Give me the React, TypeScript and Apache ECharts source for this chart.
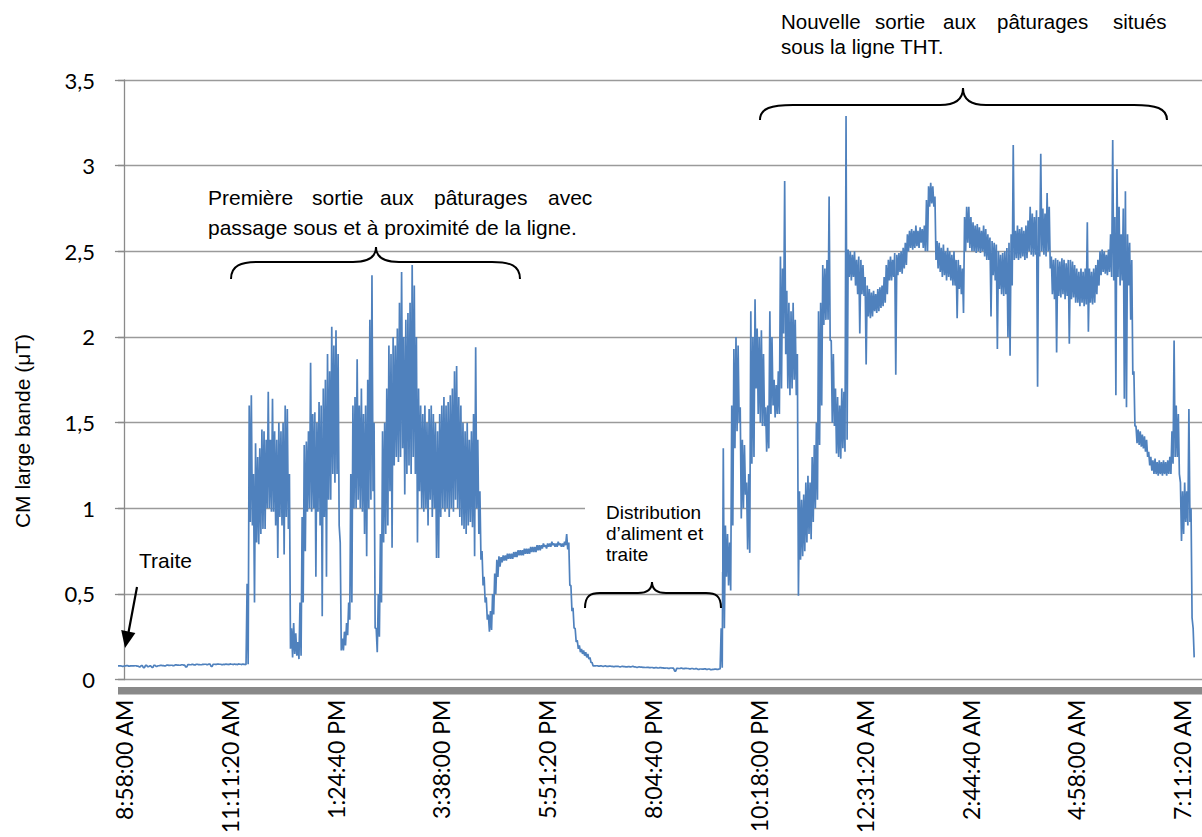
import React, { useEffect, useRef } from "react";
import * as echarts from "echarts";

// each reading window lasts 160 s; the first starts 450 s before 8:58:00 AM
const START_SECONDS = -450;
const WINDOW_SECONDS = 160;
const AXIS_MAX_SECONDS = 81500;

const TICK_SECONDS = [0, 8000, 16000, 24000, 32000, 40000, 48000, 56000, 64000, 72000, 80000];
const TICK_LABELS = [
  "8:58:00 AM", "11:11:20 AM", "1:24:40 PM", "3:38:00 PM", "5:51:20 PM",
  "8:04:40 PM", "10:18:00 PM", "12:31:20 AM", "2:44:40 AM", "4:58:00 AM", "7:11:20 AM",
];

// CM large bande (µT): upper and lower edge of the trace in each window
const milkingFlat = [0.08,0.08,0.078,0.08,0.082,0.079,0.08,0.08,0.081,0.079,
  0.075,0.082,0.07,0.083,0.076,0.08,0.072,0.084,0.078,0.081,
  0.083,0.082,0.08,0.085,0.083,0.084,0.082,0.086,0.085,0.084,
  0.087,0.085,0.074,0.088,0.087,0.089,0.086,0.09,0.088,0.087,
  0.089,0.09,0.088,0.091,0.078,0.09,0.089,0.091,0.09,0.088];

const pasture1aHigh = [0.09,0.091,0.09,0.092,0.09,0.091,0.09,0.092,0.09,0.091,
  0.09,0.56,1.6,1.66,1.2,1.38,1.3,1.35,1.46,1.45,
  1.4,1.68,1.4,1.64,1.45,1.4,1.5,1.45,1.5,1.6,
  1.58,1.2,0.3,0.33,0.27,0.22,0.45,0.95,1.37,1.39,
  1.45,1.85,1.55,1.56,1.5,1.62,1.6,1.7,1.75,1.9];
const pasture1aLow = [0.088,0.089,0.088,0.09,0.088,0.089,0.088,0.09,0.088,0.089,
  0.088,0.09,0.92,0.9,0.45,0.8,0.79,0.85,0.88,0.88,
  1.0,1.0,0.98,0.98,0.9,0.71,0.95,0.9,0.73,0.95,
  0.88,0.18,0.13,0.15,0.14,0.12,0.14,0.45,0.75,0.98,
  1.0,0.98,1.0,0.6,0.98,0.9,0.37,0.95,0.6,1.05];

const pasture1bHigh = [1.8,2.06,1.95,2.04,1.9,0.8,0.24,0.28,0.33,0.45,
  1.2,1.6,1.65,1.87,1.6,1.7,1.55,1.6,1.75,2.1,
  2.36,1.5,0.3,0.5,0.85,1.45,1.5,1.7,1.95,1.9,
  2.0,1.95,2.05,2.2,2.38,2.0,2.1,2.14,2.2,2.42,
  2.3,2.0,1.7,1.6,1.55,1.6,1.5,1.58,1.6,1.55];
const pasture1bLow = [1.05,1.2,1.15,1.2,0.9,0.17,0.17,0.2,0.26,0.35,
  0.45,1.0,1.0,1.05,1.0,0.98,0.85,0.72,1.0,1.05,
  1.1,0.3,0.16,0.25,0.45,0.8,0.85,0.9,1.1,0.77,
  1.25,1.3,1.27,1.3,1.35,1.08,1.2,1.25,1.2,1.3,
  1.2,0.8,1.1,1.0,0.98,1.0,0.9,1.05,0.95,1.0];

const pasture1cHigh = [1.5,1.45,1.55,1.6,1.65,1.6,1.62,1.66,1.7,1.8,
  1.83,1.65,1.6,1.5,1.45,1.5,1.4,1.45,1.55,1.94,
  1.4,1.1,0.75,0.6,0.48,0.38,0.4,0.5,0.62,0.7,
  0.72,0.715,0.725,0.725,0.735,0.735,0.735,0.745,0.745,0.755,
  0.755,0.755,0.765,0.765,0.765,0.775,0.775,0.775,0.785,0.785];
const pasture1cLow = [0.71,0.71,0.95,1.0,0.98,1.0,0.95,1.0,0.98,1.05,
  1.0,0.95,0.9,0.88,0.85,0.9,0.92,0.89,0.72,1.0,
  0.85,0.7,0.55,0.45,0.35,0.28,0.29,0.38,0.5,0.6,
  0.66,0.685,0.695,0.695,0.705,0.705,0.705,0.715,0.715,0.725,
  0.725,0.725,0.735,0.735,0.735,0.745,0.745,0.745,0.755,0.755];

const eveningHigh = [0.785,0.795,0.785,0.795,0.795,0.805,0.795,0.795,0.805,0.795,
  0.795,0.805,0.85,0.8,0.55,0.42,0.3,0.23,0.2,0.18,
  0.17,0.16,0.15,0.13,0.1,0.08,0.081,0.079,0.08,0.078,
  0.08,0.077,0.079,0.078,0.076,0.078,0.077,0.075,0.077,0.076,
  0.074,0.076,0.075,0.077,0.074,0.072,0.074,0.073,0.072,0.071];
const eveningLow = [0.765,0.775,0.765,0.775,0.775,0.785,0.775,0.775,0.785,0.775,
  0.775,0.785,0.76,0.55,0.4,0.3,0.22,0.18,0.16,0.15,
  0.14,0.13,0.12,0.1,0.08,0.08,0.081,0.079,0.08,0.078,
  0.08,0.077,0.079,0.078,0.076,0.078,0.077,0.075,0.077,0.076,
  0.074,0.076,0.075,0.077,0.074,0.072,0.074,0.073,0.072,0.071];

const nightStartHigh = [0.072,0.07,0.071,0.069,0.07,0.068,0.07,0.069,0.067,0.068,
  0.066,0.068,0.067,0.05,0.066,0.065,0.067,0.064,0.066,0.065,
  0.063,0.065,0.062,0.064,0.06,0.062,0.061,0.063,0.06,0.062,
  0.058,0.06,0.061,0.06,0.062,0.3,1.35,0.9,0.85,0.8,
  1.6,1.93,2.0,1.95,1.59,1.4,1.37,1.15,1.2,2.15];
const nightStartLow = [0.072,0.07,0.071,0.069,0.07,0.068,0.07,0.069,0.067,0.068,
  0.066,0.068,0.067,0.05,0.066,0.065,0.067,0.064,0.066,0.065,
  0.063,0.065,0.062,0.064,0.06,0.062,0.061,0.063,0.06,0.062,
  0.058,0.06,0.061,0.06,0.062,0.07,0.3,0.6,0.55,0.52,
  0.9,1.35,1.45,1.5,0.94,1.0,1.08,0.76,0.74,1.26];

const pasture2aHigh = [2.0,2.22,2.05,2.0,2.04,1.9,1.59,1.6,2.15,2.0,
  1.75,1.72,1.8,2.47,2.4,2.91,2.27,2.2,2.15,2.2,
  2.1,1.9,1.1,1.05,1.08,1.15,1.19,1.15,1.3,1.37,
  1.5,2.15,2.2,2.42,2.4,2.45,2.82,1.98,1.9,1.7,
  1.65,1.6,1.7,1.68,3.29,2.51,2.5,2.48,2.5,2.45];
const pasture2aLow = [1.3,1.7,1.55,1.5,1.48,1.48,1.33,1.35,1.55,1.6,
  1.53,1.55,1.55,1.7,2.02,1.9,1.7,1.66,1.7,1.75,
  1.66,0.49,0.7,0.72,0.75,0.8,0.85,0.82,0.92,1.0,
  1.05,1.37,1.6,2.07,2.1,2.1,1.98,1.5,1.48,1.32,
  1.3,1.29,1.35,1.33,1.4,2.35,2.33,2.35,2.3,2.25];

const pasture2bHigh = [2.47,2.45,2.42,2.35,2.3,2.28,2.26,2.27,2.25,2.28,
  2.29,2.3,2.35,2.42,2.45,2.47,2.45,2.49,2.48,2.49,
  2.5,2.52,2.55,2.6,2.62,2.63,2.62,2.65,2.62,2.64,
  2.63,2.65,2.8,2.88,2.9,2.88,2.82,2.56,2.55,2.52,
  2.54,2.5,2.52,2.5,2.48,2.5,2.45,2.45,2.42,2.4];
const pasture2bLow = [2.02,2.25,2.24,1.84,2.12,2.11,2.12,2.15,2.14,2.15,
  2.17,2.18,2.2,2.25,2.33,2.33,2.35,1.78,2.36,2.38,
  2.37,2.4,2.42,2.5,2.52,2.51,2.52,2.53,2.52,2.55,
  2.52,2.5,2.5,2.76,2.78,2.76,2.45,2.4,2.38,2.35,
  2.36,2.33,2.35,2.33,2.3,2.3,2.11,2.28,2.25,2.14];

const pasture2cHigh = [2.7,2.76,2.76,2.7,2.67,2.65,2.66,2.64,2.62,2.65,
  2.63,2.6,2.58,2.56,2.55,2.54,2.5,2.48,2.49,2.5,
  2.52,2.55,2.6,3.12,2.62,2.65,2.63,2.64,2.62,2.65,
  2.68,2.76,2.72,2.7,2.74,2.7,3.07,2.75,2.72,2.84,
  2.76,2.47,2.45,2.46,2.45,2.44,2.46,2.45,2.43,2.45];
const pasture2cLow = [2.5,2.55,2.52,2.5,2.5,2.49,2.5,2.49,2.5,2.47,
  2.45,2.45,2.12,2.36,2.33,1.93,2.28,2.25,2.24,2.25,
  2.0,1.89,2.3,2.45,2.46,2.45,2.46,2.47,2.45,2.46,
  2.5,2.48,2.47,2.48,1.71,2.47,2.5,2.48,2.47,2.5,
  2.4,2.25,2.22,1.91,2.24,2.23,2.25,2.22,2.24,1.96];

const pasture2dHigh = [2.45,2.44,2.42,2.4,2.38,2.4,2.38,2.4,2.67,2.4,
  2.38,2.4,2.42,2.45,2.5,2.51,2.5,2.48,2.51,2.6,
  3.15,2.7,2.98,2.76,2.6,2.75,2.85,2.6,2.55,2.45,
  1.8,1.48,1.46,1.45,1.43,1.42,1.4,1.33,1.3,1.28,
  1.29,1.27,1.28,1.27,1.28,1.27,1.28,1.3,1.45,1.98];
const pasture2dLow = [2.22,2.23,2.2,2.2,2.18,2.2,2.18,2.19,2.03,2.2,
  2.19,2.2,2.25,2.3,2.36,2.38,2.37,2.36,2.38,2.35,
  2.33,1.66,2.35,2.3,2.33,1.64,1.59,2.3,2.1,1.78,
  1.48,1.38,1.37,1.36,1.35,1.33,1.3,1.25,1.22,1.2,
  1.2,1.19,1.2,1.19,1.2,1.19,1.2,1.2,1.26,1.3];

const morningEndHigh = [1.6,1.55,1.15,1.1,1.15,1.1,1.58,1.0,0.3];
const morningEndLow = [1.3,1.2,0.81,0.85,0.92,0.9,0.92,0.36,0.13];

const HIGH = [
  ...milkingFlat, ...pasture1aHigh, ...pasture1bHigh, ...pasture1cHigh, ...eveningHigh,
  ...nightStartHigh, ...pasture2aHigh, ...pasture2bHigh, ...pasture2cHigh, ...pasture2dHigh, ...morningEndHigh,
];
const LOW = [
  ...milkingFlat, ...pasture1aLow, ...pasture1bLow, ...pasture1cLow, ...eveningLow,
  ...nightStartLow, ...pasture2aLow, ...pasture2bLow, ...pasture2cLow, ...pasture2dLow, ...morningEndLow,
];

const TEXT_FONT = "'Liberation Sans', Arial, sans-serif";
const AXIS_FONT = "Lato, 'Liberation Sans', sans-serif";

function txt(text: string, x: number, baseline: number, fs: number, align = "left") {
  return {
    type: "text",
    x,
    y: baseline - 0.3465 * fs,
    z: 20,
    silent: true,
    style: { text, fill: "#000", font: `${fs}px ${TEXT_FONT}`, align, verticalAlign: "middle" },
  };
}

function brace(x1: number, x2: number, xc: number, yEnd: number, yMid: number, yTip: number, r: number, r2: number) {
  const st = { stroke: "#000", lineWidth: 2, fill: "none" };
  const dy = yEnd - yMid;
  const dt = yMid - yTip;
  return [
    { type: "bezierCurve", z: 20, silent: true, style: st,
      shape: { x1, y1: yEnd, cpx1: x1, cpy1: yMid + dy * 0.2, cpx2: x1 + r * 0.35, cpy2: yMid, x2: x1 + r, y2: yMid } },
    { type: "line", z: 20, silent: true, style: st, shape: { x1: x1 + r, y1: yMid, x2: xc - r2, y2: yMid } },
    { type: "bezierCurve", z: 20, silent: true, style: st,
      shape: { x1: xc - r2, y1: yMid, cpx1: xc - r2 * 0.35, cpy1: yMid, cpx2: xc, cpy2: yMid - dt * 0.35, x2: xc, y2: yTip } },
    { type: "bezierCurve", z: 20, silent: true, style: st,
      shape: { x1: xc + r2, y1: yMid, cpx1: xc + r2 * 0.35, cpy1: yMid, cpx2: xc, cpy2: yMid - dt * 0.35, x2: xc, y2: yTip } },
    { type: "line", z: 20, silent: true, style: st, shape: { x1: xc + r2, y1: yMid, x2: x2 - r, y2: yMid } },
    { type: "bezierCurve", z: 20, silent: true, style: st,
      shape: { x1: x2, y1: yEnd, cpx1: x2, cpy1: yMid + dy * 0.2, cpx2: x2 - r * 0.35, cpy2: yMid, x2: x2 - r, y2: yMid } },
  ];
}

export default function App() {
  const ref = useRef<HTMLDivElement>(null);
  useEffect(() => {
    const chart = echarts.init(ref.current!, null, { renderer: "svg" });
    const data: number[][] = [];
    HIGH.forEach((hi, i) => {
      const t = START_SECONDS + i * WINDOW_SECONDS;
      data.push([t, hi]);
      data.push([t + WINDOW_SECONDS / 2, LOW[i]]);
    });
    const line1Words = ["Première", "sortie", "aux", "pâturages", "avec"];
    const line1X = [208, 312, 380, 434, 548];
    const line2Words = ["Nouvelle", "sortie", "aux", "pâturages", "situés"];
    const line2X = [781, 875, 943, 997, 1113];
    const graphic: any[] = [
      ...line1Words.map((w, k) => txt(w, line1X[k], 205, 21)),
      txt("passage sous et à proximité de la ligne.", 208, 235, 21),
      ...line2Words.map((w, k) => txt(w, line2X[k], 29, 20.5)),
      txt("sous la ligne THT.", 781, 54, 20.5),
      { type: "rect", z: 15, silent: true, shape: { x: 585, y: 478, width: 137, height: 94 }, style: { fill: "#fff" } },
      txt("Distribution", 606, 519, 19),
      txt("d’aliment et", 606, 540, 19),
      txt("traite", 606, 561, 19),
      txt("Traite", 139, 568, 21),
      ...brace(231, 520, 376, 279, 262, 247, 28, 23),
      ...brace(760, 1167, 963, 120, 105, 88, 33, 23),
      ...brace(585, 721, 652, 608, 593, 582, 15, 14),
      { type: "line", z: 20, silent: true, shape: { x1: 137, y1: 587, x2: 128.6, y2: 632 }, style: { stroke: "#000", lineWidth: 2.2 } },
      { type: "polygon", z: 20, silent: true, shape: { points: [[125, 648], [135.4, 633], [121.2, 630]] }, style: { fill: "#000" } },
      { type: "rect", z: 15, silent: true, shape: { x: 118, y: 687, width: 1090, height: 7.5 }, style: { fill: "#898989" } },
      {
        type: "text", x: 22, y: 431, rotation: Math.PI / 2, z: 20, silent: true,
        style: { text: "CM large bande (μT)", fill: "#000", font: `21px ${TEXT_FONT}`, align: "center", verticalAlign: "middle" },
      },
    ];
    chart.setOption({
      animation: false,
      backgroundColor: "#fff",
      grid: { left: 118, top: 80, bottom: 150, right: -8, containLabel: false },
      xAxis: {
        type: "value",
        min: START_SECONDS,
        max: AXIS_MAX_SECONDS,
        splitLine: { show: false },
        axisLine: { show: false },
        axisTick: { show: false },
        axisLabel: {
          customValues: TICK_SECONDS,
          rotate: 90,
          margin: 20,
          fontSize: 23,
          fontFamily: AXIS_FONT,
          color: "#000",
          formatter: (v: number) => {
            const k = TICK_SECONDS.indexOf(v);
            return k >= 0 ? TICK_LABELS[k] : "";
          },
        },
      },
      yAxis: {
        type: "value",
        min: 0,
        max: 3.5,
        interval: 0.5,
        axisLine: { show: true, lineStyle: { color: "#8a8a8a", width: 1.3 } },
        axisTick: { show: true, length: 9, lineStyle: { color: "#8a8a8a", width: 1.3 } },
        splitLine: { show: true, lineStyle: { color: "#9a9a9a", width: 1.3 } },
        axisLabel: {
          margin: 23,
          fontSize: 22,
          fontFamily: AXIS_FONT,
          color: "#000",
          formatter: (v: number) => (v === 0 ? "0" : String(v).replace(".", ",")),
        },
      },
      series: [
        {
          type: "line",
          data,
          showSymbol: false,
          symbol: "none",
          silent: true,
          lineStyle: { color: "#4F81BD", width: 1.7 },
        },
      ],
      graphic,
    });
    return () => chart.dispose();
  }, []);
  return (
    <div
      ref={ref}
      style={{ position: "fixed", left: 0, top: 0, width: 1202, height: 837, background: "#fff" }}
    />
  );
}
